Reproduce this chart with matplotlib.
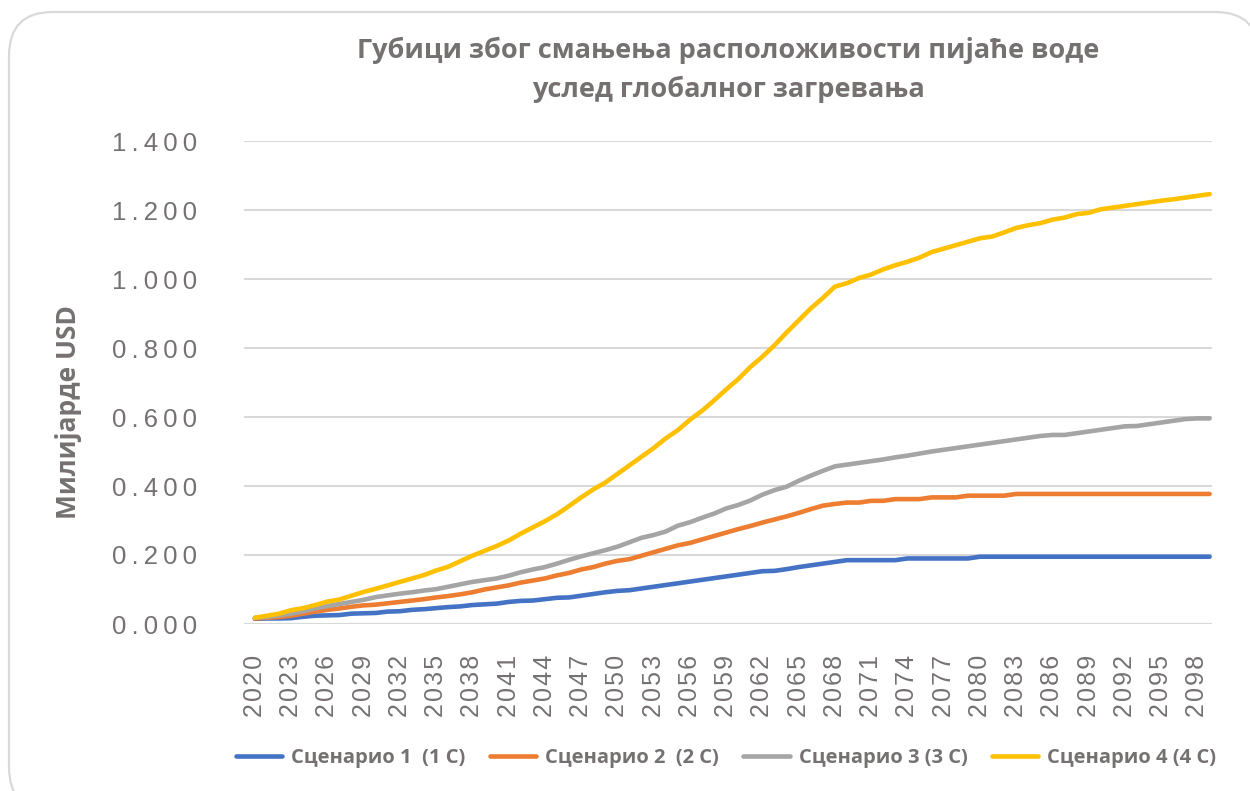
import matplotlib
matplotlib.use("Agg")
import matplotlib.pyplot as plt
from matplotlib.patches import FancyBboxPatch
from matplotlib.lines import Line2D

YEARS = list(range(2020, 2100))

SC1 = [0.015, 0.016, 0.016, 0.017, 0.021, 0.024, 0.025, 0.026, 0.030, 0.031,
       0.032, 0.036, 0.037, 0.041, 0.043, 0.046, 0.049, 0.051, 0.055, 0.057,
       0.059, 0.064, 0.067, 0.068, 0.072, 0.076, 0.077, 0.082, 0.087, 0.092,
       0.096, 0.098, 0.103, 0.108, 0.113, 0.118, 0.123, 0.128, 0.133, 0.138,
       0.143, 0.148, 0.153, 0.154, 0.159, 0.165, 0.170, 0.175, 0.180, 0.185,
       0.185, 0.185, 0.185, 0.185, 0.190, 0.190, 0.190, 0.190, 0.190, 0.190,
       0.195, 0.195, 0.195, 0.195, 0.195, 0.195, 0.195, 0.195, 0.195, 0.195,
       0.195, 0.195, 0.195, 0.195, 0.195, 0.195, 0.195, 0.195, 0.195, 0.195]

SC2 = [0.016, 0.018, 0.020, 0.024, 0.030, 0.036, 0.041, 0.045, 0.050, 0.054,
       0.056, 0.060, 0.064, 0.068, 0.072, 0.077, 0.081, 0.086, 0.092, 0.100,
       0.106, 0.112, 0.120, 0.126, 0.132, 0.141, 0.148, 0.158, 0.165, 0.175,
       0.183, 0.188, 0.198, 0.208, 0.218, 0.228, 0.235, 0.245, 0.255, 0.265,
       0.275, 0.284, 0.294, 0.303, 0.312, 0.322, 0.333, 0.343, 0.348, 0.352,
       0.352, 0.357, 0.357, 0.362, 0.362, 0.362, 0.367, 0.367, 0.367, 0.372,
       0.372, 0.372, 0.372, 0.377, 0.377, 0.377, 0.377, 0.377, 0.377, 0.377,
       0.377, 0.377, 0.377, 0.377, 0.377, 0.377, 0.377, 0.377, 0.377, 0.377]

SC3 = [0.018, 0.020, 0.025, 0.030, 0.037, 0.045, 0.052, 0.058, 0.064, 0.070,
       0.078, 0.083, 0.088, 0.092, 0.097, 0.101, 0.108, 0.115, 0.122, 0.127,
       0.132, 0.140, 0.150, 0.158, 0.165, 0.175, 0.186, 0.196, 0.205, 0.214,
       0.224, 0.237, 0.250, 0.258, 0.268, 0.285, 0.295, 0.308, 0.320, 0.335,
       0.345, 0.358, 0.375, 0.388, 0.398, 0.415, 0.430, 0.444, 0.457, 0.462,
       0.467, 0.472, 0.477, 0.483, 0.488, 0.494, 0.500, 0.505, 0.510, 0.515,
       0.520, 0.525, 0.530, 0.535, 0.540, 0.545, 0.548, 0.548, 0.553, 0.558,
       0.563, 0.568, 0.573, 0.574, 0.579, 0.584, 0.589, 0.594, 0.596, 0.596]

SC4 = [0.018, 0.024, 0.030, 0.040, 0.046, 0.055, 0.065, 0.071, 0.082, 0.093,
       0.102, 0.112, 0.122, 0.132, 0.142, 0.155, 0.166, 0.182, 0.198, 0.212,
       0.226, 0.242, 0.262, 0.280, 0.298, 0.318, 0.342, 0.367, 0.390, 0.410,
       0.435, 0.460, 0.485, 0.510, 0.538, 0.562, 0.592, 0.618, 0.648, 0.680,
       0.710, 0.745, 0.775, 0.808, 0.845, 0.880, 0.915, 0.945, 0.978, 0.988,
       1.003, 1.013, 1.028, 1.040, 1.050, 1.062, 1.078, 1.088, 1.098, 1.108,
       1.118, 1.123, 1.135, 1.148, 1.156, 1.162, 1.172, 1.178, 1.188, 1.192,
       1.202, 1.207, 1.212, 1.217, 1.222, 1.227, 1.231, 1.236, 1.241, 1.246]

SERIES = [SC1, SC2, SC3, SC4]
NAMES = ["Сценарио 1  (1 С)", "Сценарио 2  (2 С)", "Сценарио 3 (3 С)", "Сценарио 4 (4 С)"]
COLORS = ["#4472C4", "#ED7D31", "#A5A5A5", "#FFC000"]

Y_TICKS = [0.0, 0.2, 0.4, 0.6, 0.8, 1.0, 1.2, 1.4]
Y_LABELS = ["0.000", "0.200", "0.400", "0.600", "0.800", "1.000", "1.200", "1.400"]

TXT = "#767171"
GRID = "#d9d9d9"
BOLD_FONT = ["Open Sans", "DejaVu Sans"]
TICK_FONT = ["Liberation Sans", "DejaVu Sans"]


def spaced(s, sep="\u2009"):
    return sep.join(s)


fig = plt.figure(figsize=(12.5, 7.91), dpi=100)

# rounded chart frame, partly outside the canvas like the original
frame = FancyBboxPatch((9 / 1250, -20 / 791), 1250 / 1250, (791 - 12 + 20) / 791,
                       boxstyle="round,pad=0,rounding_size=0.035",
                       transform=fig.transFigure, facecolor="white",
                       edgecolor=GRID, linewidth=1.6, mutation_aspect=1250 / 791,
                       zorder=-10)
fig.patches.append(frame)

ax = fig.add_axes([244 / 1250, 1 - 624 / 791, (1212 - 244) / 1250, (624 - 141) / 791])
ax.set_facecolor("none")

x = list(range(len(YEARS)))
for data, name, col in zip(SERIES, NAMES, COLORS):
    ax.plot(x, data, color=col, lw=3.3, solid_capstyle="round",
            solid_joinstyle="round", label=name)

ax.set_xlim(-0.9, 79.2)
ax.set_ylim(0, 1.4)

for sp in ax.spines.values():
    sp.set_visible(False)
ax.yaxis.grid(True, color=GRID, lw=1.5)
ax.set_axisbelow(True)
ax.axhline(0, color=GRID, lw=1.5, zorder=0.5)

ax.set_yticks(Y_TICKS)
ax.set_yticklabels([spaced(s) for s in Y_LABELS], fontsize=18.5, color=TXT,
                   family=TICK_FONT)
xt = x[::3]
ax.set_xticks(xt)
ax.set_xticklabels([spaced(str(YEARS[i]), "\u200a") for i in xt], rotation=90,
                   fontsize=18, color=TXT, family=TICK_FONT)
ax.tick_params(axis="y", length=0, pad=34)
ax.tick_params(axis="x", length=0, pad=22)

fig.text(68 / 1250, 1 - 412 / 791, "Милијарде USD", rotation=90, ha="center",
         va="center", fontsize=19, fontweight="bold", color=TXT, family=BOLD_FONT)

fig.text(728 / 1250, 1 - 50 / 791, "Губици због смањења расположивости пијаће воде",
         ha="center", va="center", fontsize=19.5, fontweight="bold", color=TXT,
         family=BOLD_FONT)
fig.text(728 / 1250, 1 - 89 / 791, "услед глобалног загревања",
         ha="center", va="center", fontsize=19.5, fontweight="bold", color=TXT,
         family=BOLD_FONT)

handles = [Line2D([0], [0], color=c, lw=3.3, solid_capstyle="round") for c in COLORS]
leg = fig.legend(handles, NAMES, loc="center", bbox_to_anchor=(726 / 1250, 1 - 758 / 791),
                 ncol=4, frameon=False, handlelength=2.3, handletextpad=0.45,
                 columnspacing=1.2, prop={"family": BOLD_FONT, "weight": "bold", "size": 14.5})
for t in leg.get_texts():
    t.set_color(TXT)

fig.savefig("out.png", dpi=100)
